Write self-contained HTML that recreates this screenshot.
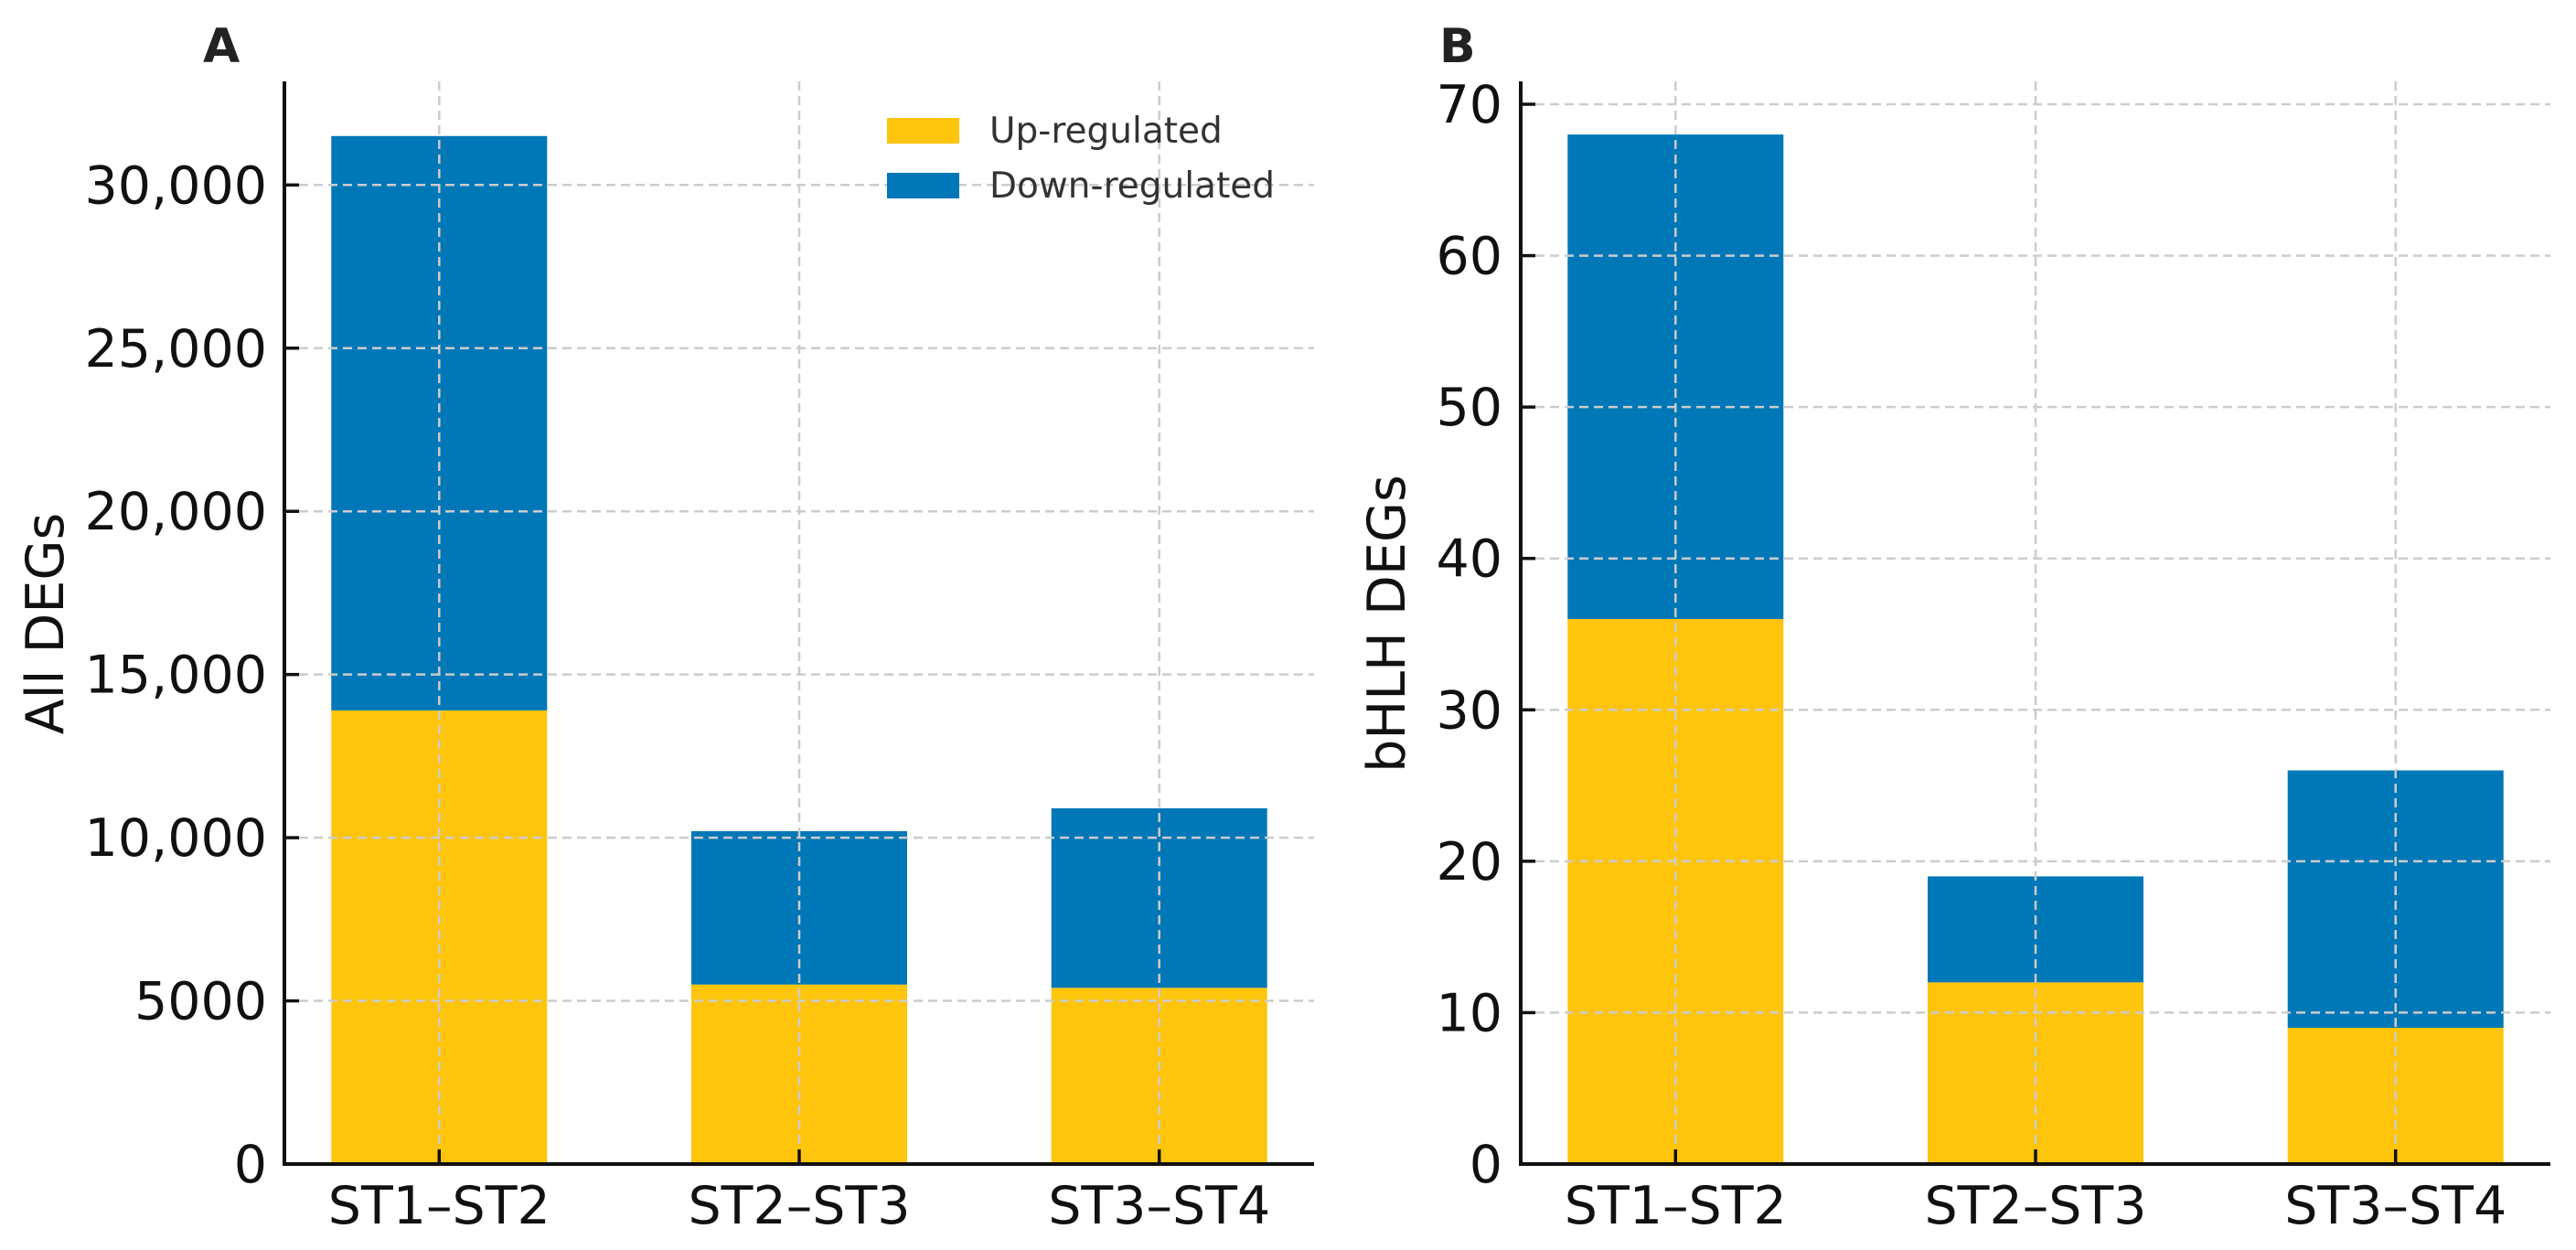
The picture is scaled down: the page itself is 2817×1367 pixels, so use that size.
<!DOCTYPE html>
<html><head><meta charset="utf-8"><style>
html,body{margin:0;padding:0;background:#fff;}
svg{display:block;font-family:"DejaVu Sans","Liberation Sans",sans-serif;}
</style></head><body>
<svg id="fig" width="2817" height="1367" viewBox="0 0 2817 1367"></svg>
<script>
const categories = ["ST1–ST2","ST2–ST3","ST3–ST4"];
const allUp = [13900, 5500, 5400];
const allDown = [17600, 4700, 5500];
const bhlhUp = [36, 12, 9];
const bhlhDown = [32, 7, 17];
const allTicks = [0,5000,10000,15000,20000,25000,30000];
const allTickLabels = ["0","5000","10,000","15,000","20,000","25,000","30,000"];
const bhlhTicks = [0,10,20,30,40,50,60,70];
const bhlhTickLabels = ["0","10","20","30","40","50","60","70"];

const NS="http://www.w3.org/2000/svg";
const svg=document.getElementById('fig');
function el(tag,attrs,parent){const e=document.createElementNS(NS,tag);for(const k in attrs)e.setAttribute(k,attrs[k]);(parent||svg).appendChild(e);return e;}
const YEL="#FFC40C", BLU="#0077B6";

function panel(cfg){
  const g=el('g',{});
  
  
  const x0=cfg.left,x1=cfg.right,yb=1273,yt=89;
  const xs=i=>x0+(i+0.43)*((x1-x0)/2.86);
  const ys=v=>yb-(v-0)*(yb-cfg.y0px)/cfg.y0val;
  const bw=236;
  categories.forEach((c,i)=>{
    const u=cfg.up[i],d=cfg.down[i];
    const r1=el('rect',{x:xs(i)-bw/2,y:ys(u),width:bw,height:yb-ys(u),fill:YEL},g);
    
    
    const r2=el('rect',{x:xs(i)-bw/2,y:ys(u+d),width:bw,height:ys(u)-ys(u+d),fill:BLU},g);
    
    
  });
  cfg.ticks.forEach((t)=>{
    const l=el('line',{x1:x0,x2:x1,y1:ys(t),y2:ys(t),stroke:"#cccccc","stroke-width":2.5,"stroke-dasharray":"10,6"},g);
    
    
  });
  categories.forEach((c,i)=>{
    const l=el('line',{x1:xs(i),x2:xs(i),y1:yt,y2:yb,stroke:"#cccccc","stroke-width":2.5,"stroke-dasharray":"10,6"},g);
    
    
  });
  const ax=el('path',{d:`M${x0},${yt} L${x0},${yb} L${x1},${yb}`,fill:"none",stroke:"#111","stroke-width":4},g);
  
  
  cfg.ticks.forEach((t,i)=>{
    const tk=el('line',{x1:x0,x2:x0+16,y1:ys(t),y2:ys(t),stroke:"#111","stroke-width":3.5},g);
    
    
    const tx=el('text',{x:cfg.labelRight,y:ys(t)+20,"text-anchor":"end","font-size":57,fill:"#111"},g);
    tx.textContent=cfg.tickLabels[i];
    
    
  });
  categories.forEach((c,i)=>{
    const tk=el('line',{x1:xs(i),x2:xs(i),y1:yb,y2:yb-16,stroke:"#111","stroke-width":3.5},g);
    
    
    const tx=el('text',{x:xs(i),y:1338,"text-anchor":"middle","font-size":57,fill:"#111"},g);
    tx.textContent=c;
    
    
  });
  const yl=el('text',{x:0,y:0,transform:`translate(${cfg.ylabelX},${cfg.ylabelY}) rotate(-90)`,"text-anchor":"middle","font-size":57,fill:"#111"},g);
  yl.textContent=cfg.ylabel;
  
  
  const pl=el('text',{x:cfg.letterX,y:68,"font-size":52,"font-weight":"bold",fill:"#222"},g);
  pl.textContent=cfg.letter;
  
  
}

panel({name:'panel-a',left:311,right:1437,up:allUp,down:allDown,ticks:allTicks,tickLabels:allTickLabels,
  y0val:30000,y0px:202.3,labelRight:292,ylabel:"All DEGs",ylabelX:69,ylabelY:682,letter:"A",letterX:222});
panel({name:'panel-b',left:1663,right:2789,up:bhlhUp,down:bhlhDown,ticks:bhlhTicks,tickLabels:bhlhTickLabels,
  y0val:70,y0px:114,labelRight:1643,ylabel:"bHLH DEGs",ylabelX:1536,ylabelY:682,letter:"B",letterX:1574});

const lg=el('g',{});


const items=[["Up-regulated",YEL,129],["Down-regulated",BLU,189]];
items.forEach(([t,c,y])=>{
  const r=el('rect',{x:970,y:y,width:79,height:28,fill:c},lg);
  
  
  const tx=el('text',{x:1082,y:y+27,"font-size":39,fill:"#333"},lg);
  tx.textContent=t;
  
  
});
</script>
</body></html>
